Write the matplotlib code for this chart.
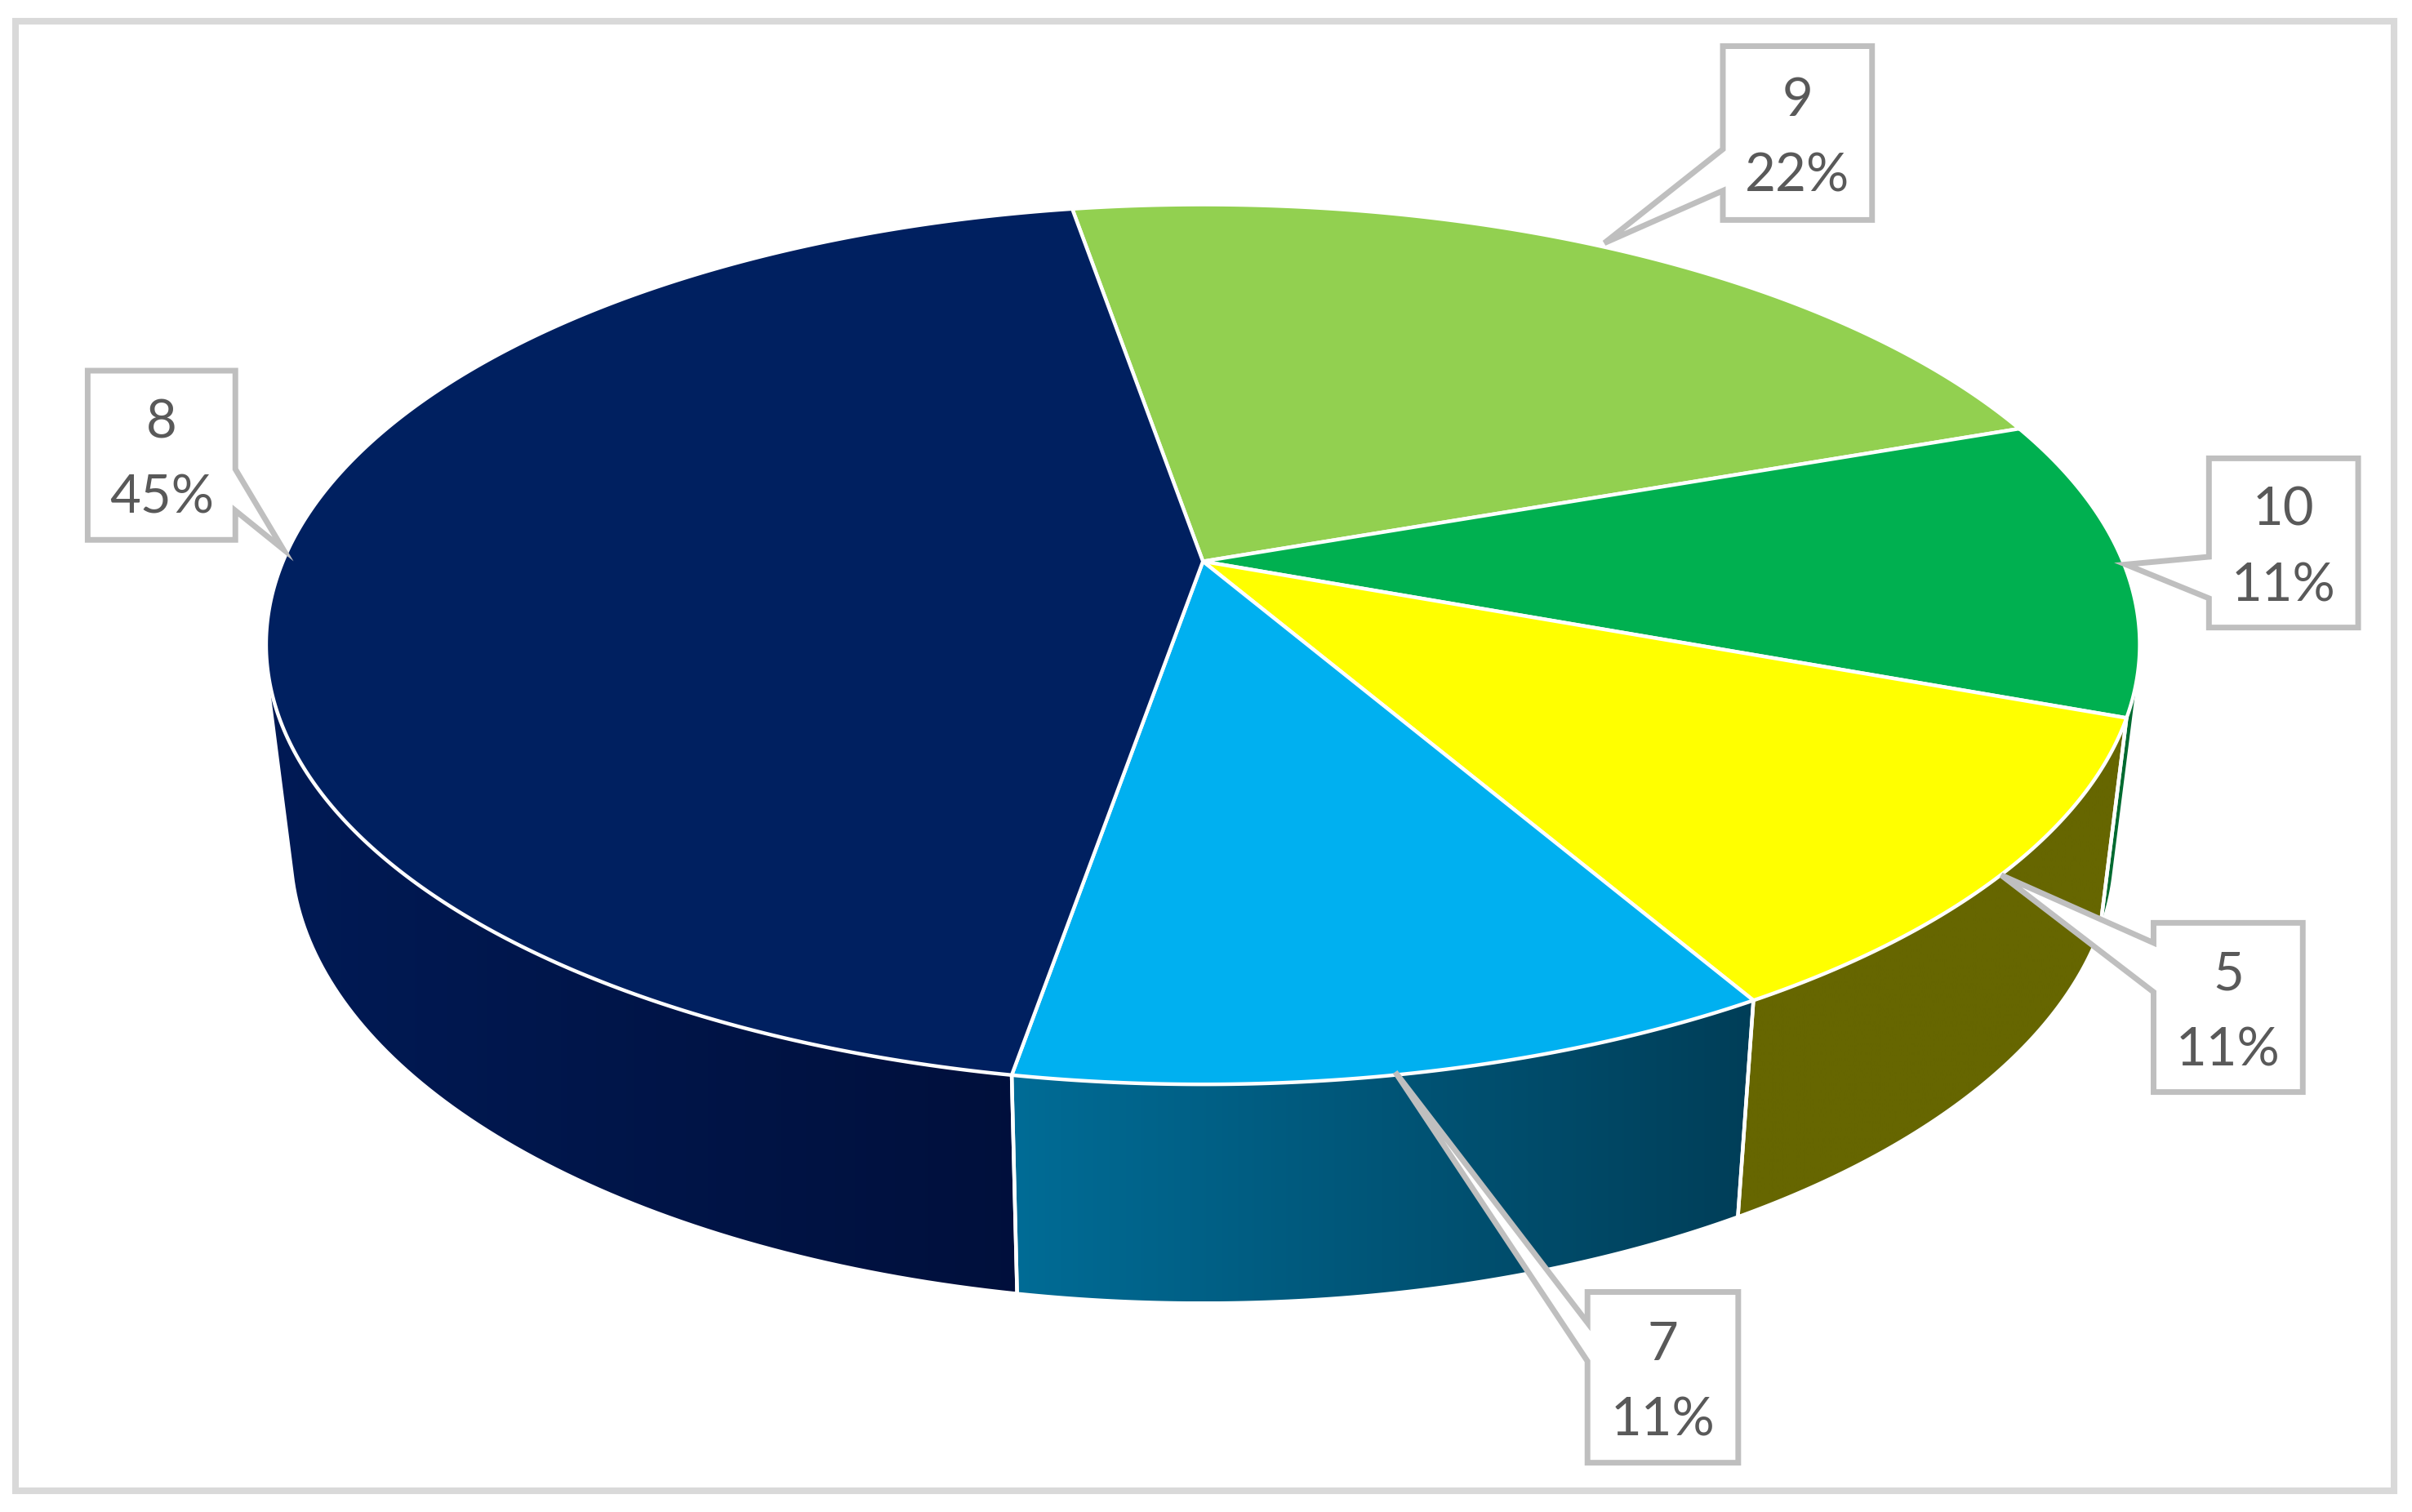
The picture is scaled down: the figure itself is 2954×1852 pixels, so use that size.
import numpy as np
import matplotlib
matplotlib.use("Agg")
import matplotlib.pyplot as plt
from matplotlib.patches import Polygon, Rectangle
from matplotlib.colors import to_rgb

# data, clockwise from the top edge of slice 9
categories = ["9", "10", "5", "7", "8"]
shares = [22.3, 11, 11.05, 11.05, 44.6]
top_colors = ["#92d050", "#00b050", "#ffff00", "#00b0f0", "#002060"]
wall_left = ["#58803a", "#006a30", "#666600", "#006c96", "#001a55"]
wall_right = ["#58803a", "#006a30", "#666600", "#003e58", "#000f3a"]

W, H = 2954, 1852
S = W / 1568  # I measured everything on the shrunk picture
plt.rcParams["font.family"] = ["Lato", "DejaVu Sans"]

fig = plt.figure(figsize=(W / 100, H / 100), dpi=100)
ax = fig.add_axes([0, 0, 1, 1])

# perspective of the tilted disc
cx, cy = 782, 365
far, near = 133, 705
k = (far + near - 2 * cy) / (near - far)
a = cy - far * (1 + k)
A = 609 * np.sqrt(1 - k * k)
start = -9.7


def disc(theta):
    u, v = np.sin(np.radians(theta)), np.cos(np.radians(theta))
    d = 1 + k * v
    return (cx + A * u / d) * S, ((cy - a * v) / d) * S


def lower(x, y):
    # same point on the bottom face
    return (cx + 0.972 * (x / S - cx)) * S, (1.03 * y / S + 120) * S


def hull(pts):
    # convex hull, so the wall keeps its straight edge past the rim of the disc
    pts = sorted(map(tuple, pts))
    def half(seq):
        out = []
        for p in seq:
            while len(out) > 1 and (out[-1][0] - out[-2][0]) * (p[1] - out[-2][1]) - (out[-1][1] - out[-2][1]) * (p[0] - out[-2][0]) <= 0:
                out.pop()
            out.append(p)
        return out[:-1]
    return np.array(half(pts) + half(pts[::-1]))


ends = start + np.cumsum(shares) / sum(shares) * 360
begins = np.r_[start, ends[:-1]]

# walls, the top face covers whatever faces away
order = np.argsort(-np.abs(((begins + ends) / 2 % 360) - 180))
for i in order:
    th = np.linspace(begins[i], ends[i], 200)
    xt, yt = disc(th)
    xb, yb = lower(xt, yt)
    pts = hull(np.c_[np.r_[xt, xb], np.r_[yt, yb]])
    x0, x1 = pts[:, 0].min(), pts[:, 0].max()
    y0, y1 = pts[:, 1].min(), pts[:, 1].max()
    t = np.linspace(0, 1, 256)[None, :, None]
    grad = (1 - t) * np.array(to_rgb(wall_left[i]))[None, None, :] + t * np.array(to_rgb(wall_right[i]))[None, None, :]
    im = ax.imshow(grad, extent=(x0, x1, y1, y0), aspect="auto", zorder=2, interpolation="bilinear")
    clip = Polygon(pts, closed=True, transform=ax.transData)
    im.set_clip_path(clip)

    # white dividers on the wall, only where they face the viewer
    for ang in (begins[i], ends[i]):
        if 90 < ang % 360 < 270:
            xa, ya = disc(ang)
            xc, yc = lower(xa, ya)
            ax.plot([xa, xc], [ya, yc], color="white", lw=3.2, zorder=3)

# top face
for i in range(len(shares)):
    th = np.linspace(begins[i], ends[i], 300)
    xt, yt = disc(th)
    pts = np.c_[np.r_[cx * S, xt], np.r_[cy * S, yt]]
    ax.add_patch(Polygon(pts, closed=True, fc=top_colors[i], ec="white", lw=3.2, zorder=4, joinstyle="round"))

# callouts: box in shrunk pixels, wedge base on the box side, tip on the slice
boxes = {
    "9": (1120, 30, 1217, 143),
    "10": (1436, 298, 1533, 408),
    "5": (1400, 600, 1497, 710),
    "7": (1032, 840, 1130, 951),
    "8": (57, 241, 153, 351),
}
wedges = {
    "9": ("left", 97, 124, (1043, 158)),
    "10": ("left", 362, 389, (1382, 367)),
    "5": ("left", 613, 645, (1301, 569)),
    "7": ("left", 860, 885, (907, 697)),
    "8": ("right", 305, 332, (184, 357)),
}
for i, name in enumerate(categories):
    x0, y0, x1, y1 = boxes[name]
    side, w0, w1, tip = wedges[name]
    if side == "left":
        pts = [(x0, y0), (x1, y0), (x1, y1), (x0, y1), (x0, w1), tip, (x0, w0)]
    else:
        pts = [(x0, y0), (x1, y0), (x1, w0), tip, (x1, w1), (x1, y1), (x0, y1)]
    ax.add_patch(Polygon(np.array(pts) * S, closed=True, fc="white", ec="#bfbfbf", lw=5, zorder=5, joinstyle="miter"))
    xm = (x0 + x1) / 2 * S
    ym = (y0 + y1) / 2 * S
    pct = f"{round(shares[i] / sum(shares) * 100)}%"
    ax.text(xm, ym - 21 * S, name, ha="center", va="center", fontsize=47, color="#595959", zorder=6)
    ax.text(xm, ym + 28 * S, pct, ha="center", va="center", fontsize=47, color="#595959", zorder=6)

# chart frame
ax.add_patch(Rectangle((19, 25.5), 2913, 1800.5, fc="none", ec="#d9d9d9", lw=5.8, zorder=7))

ax.set_xlim(0, W)
ax.set_ylim(H, 0)
ax.axis("off")
fig.savefig("out.png", dpi=100, facecolor="white")
